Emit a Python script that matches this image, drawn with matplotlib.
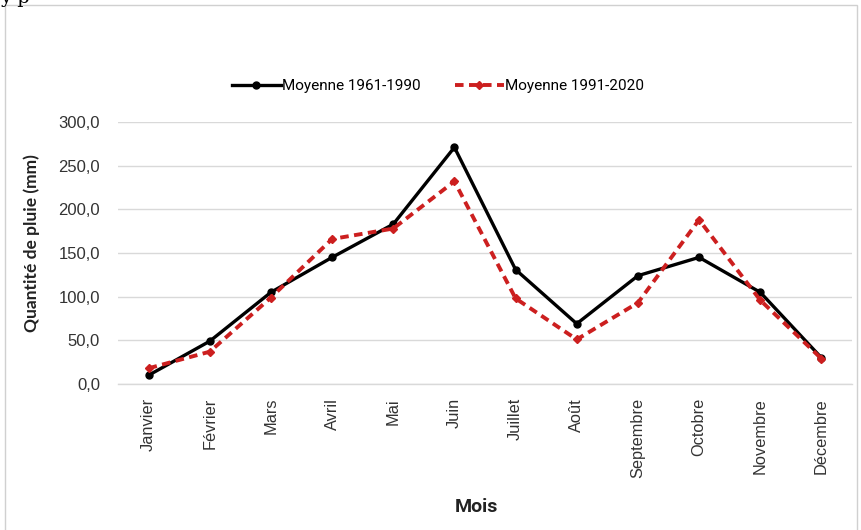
import matplotlib
matplotlib.use("Agg")
import matplotlib.pyplot as plt
from matplotlib.ticker import FuncFormatter, MultipleLocator
from matplotlib.patches import Rectangle

months = ["Janvier", "Février", "Mars", "Avril", "Mai", "Juin", "Juillet",
          "Août", "Septembre", "Octobre", "Novembre", "Décembre"]
moy_1961_1990 = [10, 49, 105, 145, 183, 271, 131, 69, 124, 145, 105, 30]
moy_1991_2020 = [18, 37, 99, 166, 178, 232, 98, 51, 93, 188, 96, 29]
label_1961 = "Moyenne 1961-1990"
label_1991 = "Moyenne 1991-2020"

plt.rcParams["font.family"] = ["Liberation Sans", "DejaVu Sans"]

W, H = 861, 530
fig = plt.figure(figsize=(W / 100, H / 100), dpi=100)
fig.patch.set_facecolor("white")

# thin frame around the chart
fig.patches.append(Rectangle((5 / W, -0.01), 852 / W, 1 - 5 / H + 0.01,
                             transform=fig.transFigure, fill=False,
                             edgecolor="#d0d0d0", linewidth=1.0))
fig.text(0.0, 1.0 + 2 / H, "y p", family="DejaVu Serif", fontsize=14,
         ha="left", va="center", color="black")

left, right, top, bottom = 118, 852, 122, 384
ax = fig.add_axes([left / W, 1 - bottom / H, (right - left) / W, (bottom - top) / H])
x = list(range(len(months)))

ax.plot(x, moy_1961_1990, color="black", linewidth=2.4, marker="o",
        markersize=5, label=label_1961, zorder=3)
ax.plot(x, moy_1991_2020, color="#cc1f1f", linewidth=2.8, linestyle=(0, (2.2, 1.4)),
        marker="D", markersize=4.5, label=label_1991, zorder=4)

ax.set_xlim(-0.5, 11.5)
ax.set_ylim(0, 300)
ax.yaxis.set_major_locator(MultipleLocator(50))
ax.yaxis.set_major_formatter(FuncFormatter(lambda v, p: f"{v:.1f}".replace(".", ",")))
ax.set_xticks(x)
ax.set_xticklabels(months, rotation=90, fontsize=11.8, color="#333333")
ax.tick_params(axis="y", labelsize=12, labelcolor="#333333", length=0, pad=13)
ax.tick_params(axis="x", length=0, pad=10)

ax.grid(axis="y", color="#d9d9d9", linewidth=1.0)
ax.set_axisbelow(True)
for s in ["top", "right", "left"]:
    ax.spines[s].set_visible(False)
ax.spines["bottom"].set_color("#d9d9d9")
ax.spines["bottom"].set_linewidth(1.0)

fig.text(32 / W, 1 - 243 / H, "Quantité de pluie (mm)", rotation=90, family="Lato",
         ha="center", va="center", fontsize=12.5, fontweight="bold", color="#222222")
fig.text(476 / W, 1 - 507 / H, "Mois", ha="center", va="center", family="Roboto",
         fontsize=14, fontweight="bold", color="#222222")

fig.legend(loc="center", bbox_to_anchor=(438 / W, 1 - 86 / H), ncol=2, frameon=False,
           handlelength=3.2, columnspacing=2.2, handletextpad=0.1,
           prop={"family": "Roboto", "size": 11})

fig.savefig("out.png", dpi=100)
